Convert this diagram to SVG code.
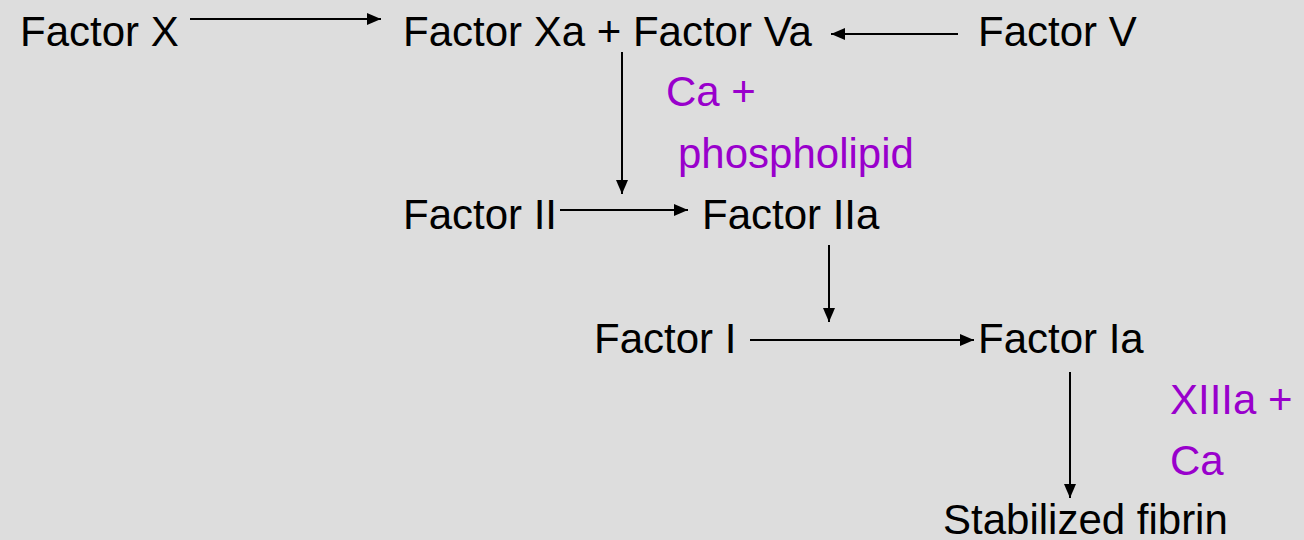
<svg xmlns="http://www.w3.org/2000/svg" width="1304" height="540" viewBox="0 0 1304 540">
  <style>
    .lbl { font-family: "Liberation Sans", Arial, sans-serif; font-size: 42px; fill: #000000; }
    .cof { font-family: "Liberation Sans", Arial, sans-serif; font-size: 42px; fill: #9900cc; }
    .edge { stroke: #000000; stroke-width: 2; fill: none; marker-end: url(#head); }
  </style>
  <defs>
    <marker id="head" viewBox="0 0 14 12" refX="14" refY="6" markerWidth="14" markerHeight="12" markerUnits="userSpaceOnUse" orient="auto">
      <path d="M0,0 L14,6 L0,12 Z" fill="#000000"/>
    </marker>
  </defs>
  <rect width="1304" height="540" fill="#dddddd"/>

  <g id="factor-x"><text class="lbl" x="20" y="46">Factor X</text></g>
  <g id="factor-xa-va"><text class="lbl" x="403" y="46">Factor Xa + Factor Va</text></g>
  <g id="factor-v"><text class="lbl" x="978" y="46">Factor V</text></g>
  <g id="cofactor-ca-phospholipid">
    <text class="cof" x="666" y="106">Ca +</text>
    <text class="cof" x="678" y="168">phospholipid</text>
  </g>
  <g id="factor-ii"><text class="lbl" x="403" y="229">Factor II</text></g>
  <g id="factor-iia"><text class="lbl" x="702" y="229">Factor IIa</text></g>
  <g id="factor-i"><text class="lbl" x="594" y="353">Factor I</text></g>
  <g id="factor-ia"><text class="lbl" x="978" y="353">Factor Ia</text></g>
  <g id="cofactor-xiiia-ca">
    <text class="cof" x="1170" y="414">XIIIa +</text>
    <text class="cof" x="1170" y="475">Ca</text>
  </g>
  <g id="stabilized-fibrin"><text class="lbl" x="943" y="534">Stabilized fibrin</text></g>

  <g id="connectors">
    <line class="edge" x1="190" y1="19" x2="381" y2="19"/>
    <line class="edge" x1="958" y1="34" x2="831" y2="34"/>
    <line class="edge" x1="622" y1="52" x2="622" y2="194"/>
    <line class="edge" x1="560" y1="210" x2="688" y2="210"/>
    <line class="edge" x1="829" y1="245" x2="829" y2="322"/>
    <line class="edge" x1="750" y1="340" x2="974" y2="340"/>
    <line class="edge" x1="1070" y1="372" x2="1070" y2="498"/>
  </g>
</svg>
